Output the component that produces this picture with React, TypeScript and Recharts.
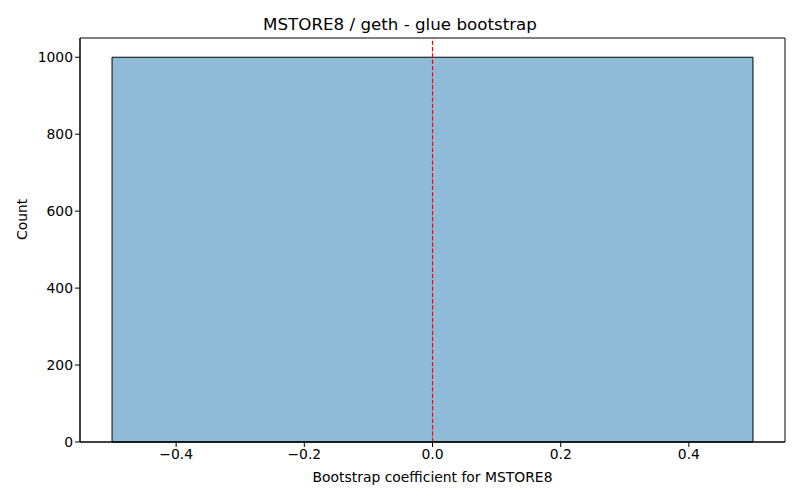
import React from 'react';
import { ComposedChart, XAxis, YAxis, ReferenceArea, ReferenceLine, Label } from 'recharts';

// histogram bins (left edge, right edge, count)
const binStarts = [-0.5];
const binEnds = [0.5];
const binCounts = [1000];
const xTicks = [-0.4, -0.2, 0.0, 0.2, 0.4];
const yTicks = [0, 200, 400, 600, 800, 1000];
const xDomain = [-0.55, 0.55];
const yDomain = [0, 1050];
const zeroLine = 0;

const font = 'DejaVu Sans, sans-serif';
const fmt = (v: number) => (v < 0 ? '\u2212' + Math.abs(v).toFixed(1) : v.toFixed(1));

export default function App() {
  const bins = binStarts.map((s, i) => ({ lo: s, hi: binEnds[i], count: binCounts[i] }));
  return (
    <div style={{ position: 'absolute', left: 0, top: 0, width: 800, height: 500, background: '#fff', fontFamily: font }}>
      <div style={{ position: 'absolute', top: 14, width: 800, textAlign: 'center', fontSize: 16.7, color: '#000' }}>
        MSTORE8 / geth - glue bootstrap
      </div>
      <ComposedChart width={800} height={500} data={bins} margin={{ top: 38, right: 15, bottom: 0, left: 0 }}>
        <XAxis
          type="number"
          dataKey="lo"
          domain={xDomain}
          ticks={xTicks}
          tickFormatter={fmt}
          height={58}
          stroke="#000"
          tickSize={5}
          tick={{ fill: '#000', fontSize: 13.9, fontFamily: font }}
          allowDataOverflow
        >
          <Label value="Bootstrap coefficient for MSTORE8" position="insideBottom" offset={18} fill="#000" fontSize={13.9} fontFamily={font} />
        </XAxis>
        <YAxis
          type="number"
          domain={yDomain}
          ticks={yTicks}
          width={80}
          stroke="#000"
          tickSize={5}
          tick={{ fill: '#000', fontSize: 13.9, fontFamily: font }}
          allowDataOverflow
        >
          <Label value="Count" angle={-90} position="insideLeft" offset={22} fill="#000" fontSize={13.9} fontFamily={font} />
        </YAxis>
        {bins.map((b, i) => (
          <ReferenceArea
            key={i}
            x1={b.lo}
            x2={b.hi}
            y1={0}
            y2={b.count}
            fill="#8FBBD9"
            fillOpacity={1}
            stroke="#000"
            strokeWidth={1}
            ifOverflow="visible"
          />
        ))}
        <ReferenceLine x={zeroLine} stroke="#ff0000" strokeWidth={1.2} strokeDasharray="4.4 1.9" />
        <ReferenceArea x1={xDomain[0]} x2={xDomain[1]} y1={yDomain[0]} y2={yDomain[1]} fill="none" stroke="#000" strokeWidth={1} />
      </ComposedChart>
    </div>
  );
}
